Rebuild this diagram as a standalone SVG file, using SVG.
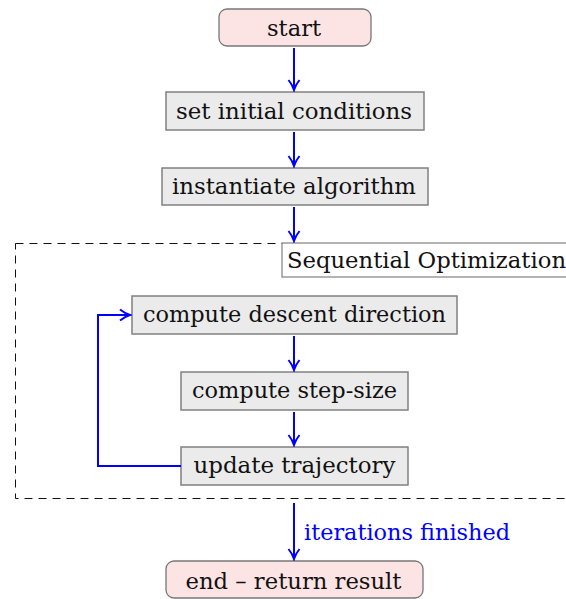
<svg xmlns="http://www.w3.org/2000/svg" width="566" height="599" viewBox="0 0 566 599">
<style>
.t{font-family:"DejaVu Serif","Liberation Serif",serif;font-size:22px;fill:#111;text-anchor:middle}
.box{fill:#ebebeb;stroke:#808080;stroke-width:1.5}
.rnd{fill:#fde4e4;stroke:#777;stroke-width:1.3}
.c{fill:none;stroke:#0000ff;stroke-width:2}
</style>
<defs>
<marker id="a" viewBox="0 0 14 14" refX="12" refY="7" markerWidth="14" markerHeight="14" markerUnits="userSpaceOnUse" orient="auto">
<path d="M2,1.5 Q7,5.5 12,7 Q7,8.5 2,12.5" fill="none" stroke="#0000ff" stroke-width="2"/>
</marker>
</defs>
<rect x="15.5" y="243.5" width="560" height="255" fill="none" stroke="#111" stroke-width="1" stroke-dasharray="8,6"/>
<g id="label-seq">
<rect x="282" y="243" width="290" height="34" fill="#fff" stroke="#808080" stroke-width="1.2"/>
<text x="287" y="268" class="t" style="text-anchor:start" textLength="279" lengthAdjust="spacingAndGlyphs">Sequential Optimization</text>
</g>
<g id="start"><rect class="rnd" x="219" y="9" width="152" height="37" rx="8"/><text class="t" x="294" y="36" textLength="54" lengthAdjust="spacingAndGlyphs">start</text></g>
<g id="init"><rect class="box" x="166" y="92" width="258" height="38"/><text class="t" x="294" y="119" textLength="236" lengthAdjust="spacingAndGlyphs">set initial conditions</text></g>
<g id="inst"><rect class="box" x="162" y="168" width="266" height="37"/><text class="t" x="294" y="194" textLength="244" lengthAdjust="spacingAndGlyphs">instantiate algorithm</text></g>
<g id="desc"><rect class="box" x="132" y="296" width="325" height="38"/><text class="t" x="294.5" y="322" textLength="303" lengthAdjust="spacingAndGlyphs">compute descent direction</text></g>
<g id="step"><rect class="box" x="181" y="372" width="227" height="38"/><text class="t" x="294.5" y="398" textLength="205" lengthAdjust="spacingAndGlyphs">compute step-size</text></g>
<g id="upd"><rect class="box" x="181" y="447" width="227" height="38"/><text class="t" x="294.5" y="473" textLength="202" lengthAdjust="spacingAndGlyphs">update trajectory</text></g>
<g id="end"><rect class="rnd" x="166" y="561" width="257" height="37" rx="8"/><text class="t" x="293.5" y="589" textLength="216" lengthAdjust="spacingAndGlyphs">end – return result</text></g>
<g id="connectors">
<path class="c" d="M294,48 V90" marker-end="url(#a)"/>
<path class="c" d="M294,132 V166" marker-end="url(#a)"/>
<path class="c" d="M294,207 V241" marker-end="url(#a)"/>
<path class="c" d="M294,336 V370" marker-end="url(#a)"/>
<path class="c" d="M294,412 V445" marker-end="url(#a)"/>
<path class="c" d="M181,466 H98 V315 H130" marker-end="url(#a)"/>
<path class="c" d="M294,503 V559" marker-end="url(#a)"/>
<text x="304" y="540" textLength="206" lengthAdjust="spacingAndGlyphs" style="font-family:'DejaVu Serif','Liberation Serif',serif;font-size:22px;fill:#0000ff">iterations finished</text>
</g>
</svg>
